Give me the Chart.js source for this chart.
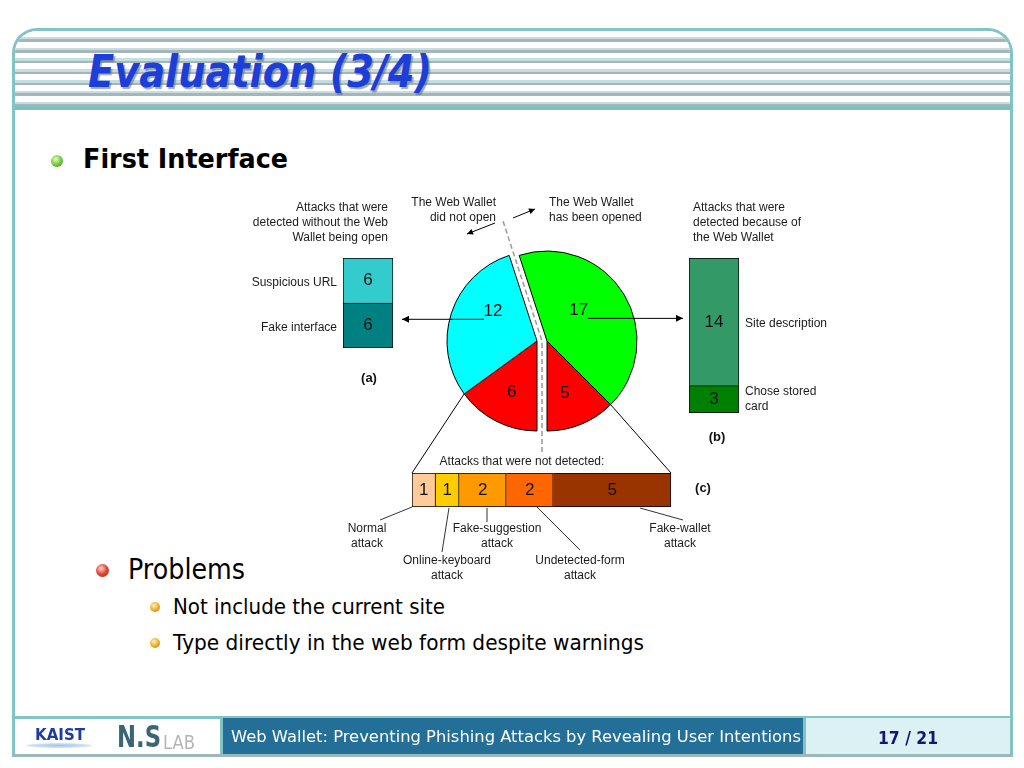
<!DOCTYPE html>
<html>
<head>
<meta charset="utf-8">
<title>Evaluation (3/4)</title>
<script src="https://cdn.jsdelivr.net/npm/chart.js@4.4.1/dist/chart.umd.min.js"></script>
<style>
  html, body { margin: 0; padding: 0; background: #fff; }
  #slide { position: relative; width: 1024px; height: 768px; overflow: hidden; background: #fff;
           font-family: "DejaVu Sans", Verdana, sans-serif; }
  .abs { position: absolute; white-space: nowrap; }
  [data-w] { transform-origin: left top; }
  #frame { position: absolute; left: 12px; top: 28px; width: 1001px; height: 729px; box-sizing: border-box;
           border: 3px solid #84c3c4; border-bottom-color: #9cb8bb; border-radius: 25px 25px 0 0; overflow: hidden; }
  #stripes { position: absolute; left: 0; right: 0; top: 0; height: 75px;
             background: repeating-linear-gradient(to bottom, #fff 0, #fff 5.8px, #c4dfe1 5.8px, #c4dfe1 8.3px,
                                                   #a7b4b8 8.3px, #a7b4b8 10.8px); }
  #titleRule { position: absolute; left: 0; right: 0; top: 75px; height: 3.5px; background: #7fbfc0; }
  .title { font: italic bold 44px/44px "DejaVu Sans", Verdana, sans-serif; color: #1b3fd8;
           text-shadow: 2px 2px 1px rgba(80, 95, 130, 0.55); }
  .dot { position: absolute; border-radius: 50%; }
  canvas { position: absolute; }
  #lines { position: absolute; left: 0; top: 0; width: 1024px; height: 768px; pointer-events: none; }
  .lbl { position: absolute; white-space: nowrap; font: 12px/15px "Liberation Sans", Arial, sans-serif; color: #1b1b1b; }
  .lbl.r { text-align: right; }
  .lbl.c { text-align: center; width: 200px; }
  .lbl.s { line-height: 14.5px; }
  .tag { position: absolute; width: 100px; text-align: center; font: bold 13px/16px "Liberation Sans", Arial, sans-serif; color: #111; }
</style>
</head>
<body>
<div id="slide">
  <div id="frame">
    <div id="stripes"></div>
    <div id="titleRule"></div>
  </div>
  <div class="abs title" data-w="344" style="left:88px;top:50px">Evaluation (3/4)</div>

  <div class="dot" style="left:51px;top:155px;width:12px;height:12px;background:radial-gradient(circle at 40% 35%, #e4ffc8 0, #7fd046 45%, #3b8a1e 100%)"></div>
  <div class="abs" data-w="205" style="left:83px;top:146px;font:bold 26px/26px 'DejaVu Sans',sans-serif;color:#000">First Interface</div>

  <div class="dot" style="left:96px;top:564px;width:13px;height:13px;background:radial-gradient(circle at 40% 35%, #ffd6d0 0, #e0503c 45%, #9a1e12 100%)"></div>
  <div class="abs" data-w="117" style="left:128px;top:556px;font:28px/28px 'DejaVu Sans',sans-serif;color:#000">Problems</div>
  <div class="dot" style="left:150px;top:602px;width:10px;height:10px;background:radial-gradient(circle at 40% 35%, #fff2c0 0, #f0b030 50%, #b06a10 100%)"></div>
  <div class="abs" data-w="272" style="left:173px;top:596px;font:22px/22px 'DejaVu Sans',sans-serif;color:#000">Not include the current site</div>
  <div class="dot" style="left:150px;top:638px;width:10px;height:10px;background:radial-gradient(circle at 40% 35%, #fff2c0 0, #f0b030 50%, #b06a10 100%)"></div>
  <div class="abs" data-w="471" style="left:173px;top:632px;font:22px/22px 'DejaVu Sans',sans-serif;color:#000">Type directly in the web form despite warnings</div>

  <canvas id="pieL" width="200" height="200" style="left:437px;top:241px"></canvas>
  <canvas id="pieR" width="200" height="200" style="left:447px;top:241px"></canvas>
  <canvas id="barA" width="54" height="94" style="left:341px;top:256px"></canvas>
  <canvas id="barB" width="54" height="159" style="left:687px;top:256px"></canvas>
  <canvas id="barC" width="263" height="38" style="left:410px;top:471px"></canvas>

  <svg id="lines" viewBox="0 0 1024 768">
    <defs>
      <marker id="head" viewBox="0 0 10 10" refX="10" refY="5" markerWidth="10" markerHeight="7" markerUnits="userSpaceOnUse" orient="auto">
        <path d="M0,0 L10,5 L0,10 z" fill="#000"/>
      </marker>
      <marker id="headS" viewBox="0 0 10 10" refX="10" refY="5" markerWidth="8" markerHeight="6" markerUnits="userSpaceOnUse" orient="auto">
        <path d="M0,0 L10,5 L0,10 z" fill="#000"/>
      </marker>
    </defs>
  </svg>

  <div class="lbl r" style="right:636px;top:200px">Attacks that were<br>detected without the Web<br>Wallet being open</div>
  <div class="lbl r" style="right:528px;top:195px">The Web Wallet<br>did not open</div>
  <div class="lbl" style="left:549px;top:195px">The Web Wallet<br>has been opened</div>
  <div class="lbl" style="left:693px;top:200px">Attacks that were<br>detected because of<br>the Web Wallet</div>
  <div class="lbl r" style="right:687px;top:275px">Suspicious URL</div>
  <div class="lbl r" style="right:687px;top:320px">Fake interface</div>
  <div class="tag" style="left:319px;top:370px">(a)</div>
  <div class="lbl" style="left:745px;top:316px">Site description</div>
  <div class="lbl" style="left:745px;top:384px">Chose stored<br>card</div>
  <div class="tag" style="left:667px;top:429px">(b)</div>
  <div class="lbl c" style="left:422px;top:454px">Attacks that were not detected:</div>
  <div class="tag" style="left:653px;top:480px">(c)</div>
  <div class="lbl c s" style="left:267px;top:521px">Normal<br>attack</div>
  <div class="lbl c s" style="left:347px;top:553px">Online-keyboard<br>attack</div>
  <div class="lbl c s" style="left:397px;top:521px">Fake-suggestion<br>attack</div>
  <div class="lbl c s" style="left:480px;top:553px">Undetected-form<br>attack</div>
  <div class="lbl c s" style="left:580px;top:521px">Fake-wallet<br>attack</div>

  <!-- footer -->
  <div class="abs" style="left:15px;top:716px;width:995px;height:2.5px;background:#84c3c4"></div>
  <div class="abs" style="left:220px;top:718px;width:3px;height:36px;background:#84c3c4"></div>
  <div class="abs" style="left:223px;top:718px;width:580px;height:36px;background:#236f97"></div>
  <div class="abs" style="left:803px;top:718px;width:3px;height:36px;background:#84c3c4"></div>
  <div class="abs" style="left:806px;top:718px;width:204px;height:36px;background:#dbf1f3"></div>
  <div class="abs" style="left:26px;top:743px;width:66px;height:5px;border-radius:50%;background:radial-gradient(ellipse at center, #9cc4f0 0, #cfe2f8 60%, rgba(255,255,255,0) 100%)"></div>
  <div class="abs" data-w="50" style="left:35px;top:727px;font:bold 16px/16px 'DejaVu Sans',sans-serif;color:#1f3c9c">KAIST</div>
  <div class="abs" data-w="44" style="left:117px;top:721px;font:bold 31px/31px 'DejaVu Sans',sans-serif;color:#3b6475">N.S</div>
  <div class="abs" data-w="32" style="left:163px;top:732px;font:20px/20px 'DejaVu Sans',sans-serif;color:#b5b5b5">LAB</div>
  <div class="abs" data-w="570" style="left:231px;top:729px;font:16px/16px 'DejaVu Sans',sans-serif;color:#fff">Web Wallet: Preventing Phishing Attacks by Revealing User Intentions</div>
  <div class="abs" data-w="60" style="left:878px;top:729px;font:bold 18px/18px 'DejaVu Sans',sans-serif;color:#15157a">17 / 21</div>
</div>

<script>
// pie: attacks split by whether the Web Wallet was opened
const pieCategories = ["Not detected, wallet not opened", "Detected without the wallet", "Detected because of the wallet", "Not detected, wallet opened"];
const pieValues = [6, 12, 17, 5];
const pieSide = ["closed", "closed", "opened", "opened"];

// (a) detected without the Web Wallet being open (bottom to top)
const barACategories = ["Fake interface", "Suspicious URL"];
const barAValues = [6, 6];

// (b) detected because of the Web Wallet (bottom to top)
const barBCategories = ["Chose stored card", "Site description"];
const barBValues = [3, 14];

// (c) attacks that were not detected (left to right)
const barCCategories = ["Normal attack", "Online-keyboard attack", "Fake-suggestion attack", "Undetected-form attack", "Fake-wallet attack"];
const barCValues = [1, 1, 2, 2, 5];

const pieColors = ["#ff0000", "#00ffff", "#00ff00", "#ff0000"];
const barAColors = ["#008080", "#33cccc"];
const barBColors = ["#008000", "#339966"];
const barCColors = ["#ffcc99", "#ffcc00", "#ff9900", "#ff6600", "#993300"];

// where each slice number sits: degrees from top (clockwise), fraction of radius
const sliceLabelPolar = [[206, 0.64], [304, 0.59], [46, 0.49], [161, 0.61]];

function sliceLabelPoint(el, i) {
    const a = sliceLabelPolar[i][0] * Math.PI / 180;
    const r = el.outerRadius * sliceLabelPolar[i][1];
    return { x: el.x + Math.sin(a) * r, y: el.y - Math.cos(a) * r };
}

function valueLabels(at, skip) {
    return {
        id: "valueLabels",
        afterDatasetsDraw(chart) {
            const ctx = chart.ctx;
            ctx.save();
            ctx.font = '17px "Liberation Sans", Arial, sans-serif';
            ctx.fillStyle = "#111";
            ctx.textAlign = "center";
            ctx.textBaseline = "middle";
            chart.data.datasets.forEach((ds, d) => {
                chart.getDatasetMeta(d).data.forEach((el, i) => {
                    if (skip && skip(i)) return;
                    const p = at ? at(el, i) : el.getCenterPoint();
                    ctx.fillText(ds.data[i], p.x, p.y);
                });
            });
            ctx.restore();
        }
    };
}

function makePie(id, side) {
    const shown = pieSide.map(s => s === side);
    return new Chart(document.getElementById(id), {
        type: "pie",
        data: {
            labels: pieCategories,
            datasets: [{
                data: pieValues,
                backgroundColor: pieColors.map((c, i) => shown[i] ? c : "rgba(0,0,0,0)"),
                borderColor: "#000",
                borderWidth: shown.map(s => s ? 1 : 0)
            }]
        },
        options: {
            responsive: false,
            animation: false,
            events: [],
            rotation: 180,
            radius: 90,
            plugins: { legend: { display: false }, tooltip: { enabled: false } }
        },
        plugins: [valueLabels(sliceLabelPoint, i => !shown[i])]
    });
}

function makeStack(id, categories, values, colors, horizontal) {
    const total = values.reduce((a, b) => a + b, 0);
    const valueAxis = { display: false, stacked: true, min: 0, max: total };
    const catAxis = { display: false, stacked: true };
    return new Chart(document.getElementById(id), {
        type: "bar",
        data: {
            labels: [""],
            datasets: categories.map((c, i) => ({
                label: c,
                data: [values[i]],
                backgroundColor: colors[i],
                borderColor: "#000",
                borderWidth: 1,
                borderSkipped: i > 0 ? "start" : false,
                barPercentage: 1,
                categoryPercentage: 1
            }))
        },
        options: {
            indexAxis: horizontal ? "y" : "x",
            responsive: false,
            animation: false,
            events: [],
            layout: { padding: 2 },
            scales: horizontal ? { x: valueAxis, y: catAxis } : { x: catAxis, y: valueAxis },
            plugins: { legend: { display: false }, tooltip: { enabled: false } }
        },
        plugins: [valueLabels()]
    });
}

const pieL = makePie("pieL", "closed");
const pieR = makePie("pieR", "opened");
const barA = makeStack("barA", barACategories, barAValues, barAColors, false);
const barB = makeStack("barB", barBCategories, barBValues, barBColors, false);
const barC = makeStack("barC", barCCategories, barCValues, barCColors, true);

// connector lines, anchored on the chart elements
const svg = document.getElementById("lines");
function line(points, attrs) {
    const el = document.createElementNS("http://www.w3.org/2000/svg", "polyline");
    el.setAttribute("points", points.map(p => p.join(",")).join(" "));
    el.setAttribute("fill", "none");
    Object.entries(Object.assign({ stroke: "#000", "stroke-width": 1 }, attrs || {}))
        .forEach(([k, v]) => el.setAttribute(k, v));
    svg.appendChild(el);
}
const page = (chart, x, y) => [chart.canvas.offsetLeft + x, chart.canvas.offsetTop + y];

const arcL = pieL.getDatasetMeta(0).data;
const arcR = pieR.getDatasetMeta(0).data;
const R = arcL[0].outerRadius;

const p12 = page(pieL, sliceLabelPoint(arcL[1], 1).x, sliceLabelPoint(arcL[1], 1).y);
const p17 = page(pieR, sliceLabelPoint(arcR[2], 2).x, sliceLabelPoint(arcR[2], 2).y);
const a0 = barA.getDatasetMeta(0).data[0];
const b0 = barB.getDatasetMeta(0).data[0];
line([[p12[0] - 9, p12[1] + 8], [page(barA, a0.x + a0.width / 2, 0)[0] + 9, p12[1] + 8]], { "marker-end": "url(#head)" });
line([[p17[0] + 9, p17[1] + 8], [page(barB, b0.x - b0.width / 2, 0)[0] - 6, p17[1] + 8]], { "marker-end": "url(#head)" });

const e0 = arcL[0];
const e3 = arcR[3];
const c0 = barC.getDatasetMeta(0).data[0];
const cN = barC.getDatasetMeta(barCValues.length - 1).data[0];
line([page(pieL, e0.x + Math.cos(e0.endAngle) * R, e0.y + Math.sin(e0.endAngle) * R),
      page(barC, c0.base, c0.y - c0.height / 2)]);
line([page(pieR, e3.x + Math.cos(e3.startAngle) * R, e3.y + Math.sin(e3.startAngle) * R),
      page(barC, cN.x, cN.y - cN.height / 2)]);

// dashed split line through the gap between the two halves
const cx = (page(pieL, e0.x, 0)[0] + page(pieR, e3.x, 0)[0]) / 2;
const cy = page(pieL, 0, e0.y)[1];
const splitAngle = arcL[1].endAngle;
line([[cx + Math.cos(splitAngle) * R * 1.4, cy + Math.sin(splitAngle) * R * 1.4], [cx, cy], [cx, cy + R * 1.27]],
     { stroke: "#9a9a9a", "stroke-width": 1.5, "stroke-dasharray": "5 3" });

// small direction arrows
line([[495, 223], [467, 234]], { "marker-end": "url(#headS)" });
line([[513, 218], [535, 209]], { "marker-end": "url(#headS)" });

// leader lines for (c)
[[[412, 507], [380, 520]], [[449, 508], [442, 552]], [[487, 508], [487, 522]],
 [[537, 507], [580, 550]], [[640, 508], [683, 520]]].forEach(pts => line(pts, { stroke: "#333" }));

// squeeze slide text to the widths of the original
document.querySelectorAll("[data-w]").forEach(el => {
    const w = el.getBoundingClientRect().width;
    el.style.transform = "scaleX(" + (el.dataset.w / w) + ")";
});
</script>
</body>
</html>
